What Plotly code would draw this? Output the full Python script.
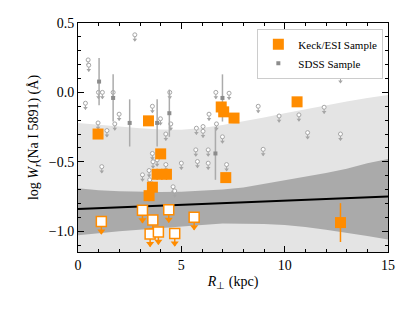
import plotly.graph_objects as go

# ---------------- data ----------------
# Keck/ESI detections
keck_r = [0.97, 3.41, 4.00, 3.83, 4.28, 3.60, 3.44, 6.93, 7.05, 7.55, 7.15, 10.60, 12.70]
keck_w = [-0.30, -0.205, -0.443, -0.59, -0.59, -0.683, -0.744, -0.105, -0.14, -0.185, -0.614, -0.068, -0.938]
keck_err = [0.03, 0.03, 0.03, 0.04, 0.04, 0.04, 0.04, 0.03, 0.03, 0.03, 0.03, 0.03, 0.14]

# Keck/ESI upper limits
keck_lim_r = [1.13, 3.12, 4.39, 3.62, 5.62, 3.49, 3.89, 4.68]
keck_lim_w = [-0.93, -0.85, -0.846, -0.92, -0.90, -1.02, -1.005, -1.017]

# SDSS detections
sdss_r = [1.02, 1.70, 2.50, 3.83, 4.42, 6.99, 6.65]
sdss_w = [0.078, -0.04, -0.22, -0.22, -0.15, -0.04, -0.44]
sdss_err = [0.17, 0.17, 0.17, 0.17, 0.17, 0.17, 0.19]

# SDSS upper limits
sdss_lim_r = [0.49, 0.52, 0.36, 0.99, 1.18, 1.70, 2.75, 1.99, 0.97, 1.40, 1.78, 3.60, 3.99,
              4.25, 4.44, 4.49, 5.73, 6.05, 6.05, 6.34, 6.67, 6.70, 9.04, 9.73, 12.70, 7.31,
              8.72, 9.73, 10.69, 11.91, 11.11, 12.70, 8.96, 6.99, 7.19, 1.15, 3.12, 3.44,
              3.47, 3.63, 3.60, 3.83, 5.00, 5.70, 5.78, 6.30, 6.30, 4.25, 4.60, 4.68]
sdss_lim_w = [0.234, 0.196, -0.078, 0.0, 0.0, 0.0, 0.415, -0.157, -0.22, -0.275, -0.227, -0.10, -0.19,
              -0.30, 0.0, -0.227, -0.258, -0.246, -0.28, -0.157, 0.0, -0.227, 0.198, 0.174, 0.114, -0.006,
              -0.10, -0.17, -0.162, -0.107, -0.29, -0.30, -0.41, -0.32, -0.52, -0.535, -0.594, -0.563,
              -0.63, -0.50, -0.44, -0.486, -0.51, -0.414, -0.498, -0.414, -0.51, -0.52, -0.68, -0.71]

# model fit and confidence bands
fit_r = [0, 15]
fit_w = [-0.84, -0.75]
band_r = [0, 1, 2, 3, 4, 5, 6, 7, 8, 9, 10, 11, 12, 13, 14, 15]
band2_hi = [-0.22, -0.235, -0.245, -0.258, -0.268, -0.27, -0.257, -0.235, -0.21, -0.18, -0.15, -0.12, -0.09, -0.065, -0.04, -0.018]
band2_lo = [-1.35] * 16
band1_hi = [-0.69, -0.705, -0.713, -0.718, -0.718, -0.715, -0.71, -0.70, -0.685, -0.66, -0.635, -0.61, -0.58, -0.55, -0.51, -0.48]
band1_lo = [-1.03, -1.015, -1.0, -0.99, -0.975, -0.965, -0.955, -0.945, -0.945, -0.948, -0.955, -0.97, -0.99, -1.01, -1.035, -1.06]

ORANGE = "#ff8c00"
GRAY = "#a6a6a6"
FONT = "Liberation Serif"
keck_arrow = 0.09
sdss_arrow = 0.045

fig = go.Figure()

# bands
fig.add_trace(go.Scatter(x=band_r + band_r[::-1], y=band2_hi + band2_lo[::-1], fill="toself",
                         fillcolor="#e4e4e4", line=dict(width=0), mode="lines",
                         showlegend=False, hoverinfo="skip"))
fig.add_trace(go.Scatter(x=band_r + band_r[::-1], y=band1_hi + band1_lo[::-1], fill="toself",
                         fillcolor="#aaaaaa", line=dict(width=0), mode="lines",
                         showlegend=False, hoverinfo="skip"))

# SDSS upper limits: stem + arrowhead + open circle
fig.add_trace(go.Scatter(x=sdss_lim_r, y=[w - sdss_arrow + 0.01 for w in sdss_lim_w], mode="markers",
                         marker=dict(symbol="triangle-down", size=4, color=GRAY),
                         showlegend=False, hoverinfo="skip"))
fig.add_trace(go.Scatter(x=sdss_lim_r, y=sdss_lim_w, mode="markers",
                         marker=dict(symbol="circle", size=4, color="white", line=dict(color=GRAY, width=1)),
                         error_y=dict(type="data", symmetric=False, array=[0] * len(sdss_lim_w),
                                      arrayminus=[sdss_arrow] * len(sdss_lim_w), width=0,
                                      thickness=1, color=GRAY),
                         showlegend=False, hoverinfo="skip"))

# SDSS detections
fig.add_trace(go.Scatter(x=sdss_r, y=sdss_w, mode="markers", name="SDSS Sample",
                         marker=dict(symbol="square", size=4, color="#8c8c8c"),
                         error_y=dict(type="data", array=sdss_err, width=0, thickness=1.5, color="#ababab")))

# fit line
fig.add_trace(go.Scatter(x=fit_r, y=fit_w, mode="lines", line=dict(color="black", width=2),
                         showlegend=False, hoverinfo="skip"))

# Keck upper limits
fig.add_trace(go.Scatter(x=keck_lim_r, y=[w - keck_arrow + 0.02 for w in keck_lim_w], mode="markers",
                         marker=dict(symbol="triangle-down", size=7, color=ORANGE),
                         showlegend=False, hoverinfo="skip"))
fig.add_trace(go.Scatter(x=keck_lim_r, y=keck_lim_w, mode="markers",
                         marker=dict(symbol="square", size=10, color="white", line=dict(color=ORANGE, width=1.5)),
                         error_y=dict(type="data", symmetric=False, array=[0] * len(keck_lim_w),
                                      arrayminus=[keck_arrow] * len(keck_lim_w), width=0,
                                      thickness=1.5, color=ORANGE),
                         showlegend=False, hoverinfo="skip"))

# Keck detections
fig.add_trace(go.Scatter(x=keck_r, y=keck_w, mode="markers", name="Keck/ESI Sample",
                         marker=dict(symbol="square", size=11, color=ORANGE),
                         error_y=dict(type="data", array=keck_err, width=0, thickness=1.5, color=ORANGE)))

axis_common = dict(showline=True, linecolor="black", linewidth=1, mirror="allticks",
                   ticks="inside", ticklen=6, tickcolor="black", showgrid=False, zeroline=False,
                   automargin=False,
                   tickfont=dict(family=FONT, size=14, color="black"))

fig.update_layout(
    width=415, height=311,
    margin=dict(l=78, r=27, t=23, b=59),
    paper_bgcolor="white", plot_bgcolor="white",
    font=dict(family=FONT, color="black"),
    legend=dict(x=0.985, y=0.975, xanchor="right", yanchor="top", bgcolor="white",
                bordercolor="#cccccc", borderwidth=1, font=dict(family=FONT, size=11),
                traceorder="reversed", tracegroupgap=0),
    xaxis=dict(range=[0, 15], tickvals=[0, 5, 10, 15],
               minor=dict(ticks="inside", dtick=1, ticklen=3, tickcolor="black"),
               title=dict(text="<i>R</i><sub>⊥</sub> (kpc)", font=dict(family=FONT, size=14), standoff=4),
               **axis_common),
    yaxis=dict(range=[-1.15, 0.5], tickvals=[-1.0, -0.5, 0.0, 0.5], tickformat=".1f",
               minor=dict(ticks="inside", dtick=0.1, ticklen=3, tickcolor="black"),
               title=dict(text="log <i>W</i><sub><i>r</i></sub>(Na I 5891) (Å)", font=dict(family=FONT, size=14), standoff=6),
               **axis_common),
)

fig.write_html("out.html", config={"displayModeBar": False},
               post_script="document.body.style.margin='0';document.body.style.overflow='hidden';")
